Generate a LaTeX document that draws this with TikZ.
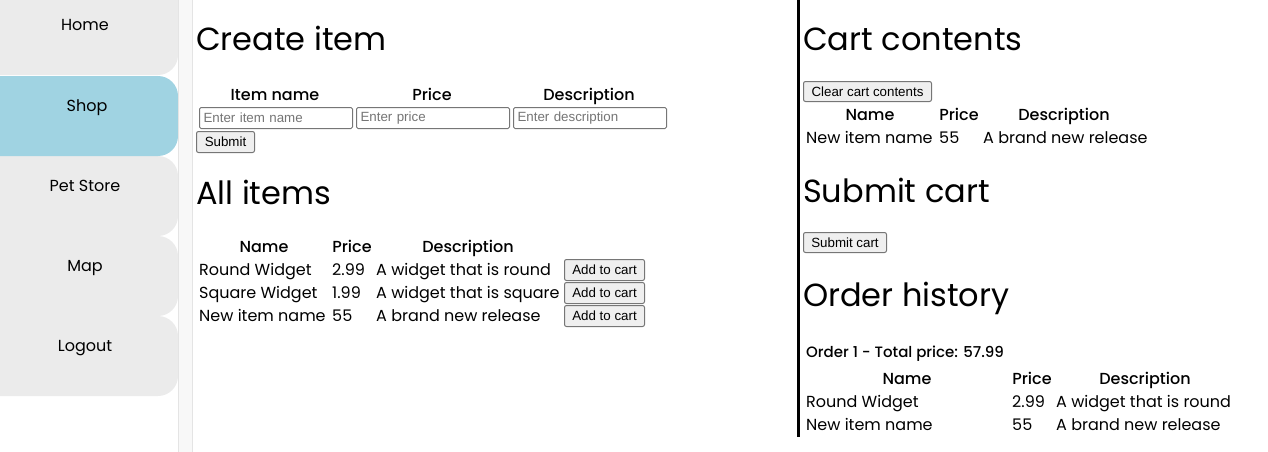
\documentclass[tikz,border=0pt]{standalone}
\usepackage{fontspec}
\newfontfamily\mont{Poppins}
\newfontfamily\montm{Poppins}[UprightFont={* Medium}]
\newfontfamily\ari{Liberation Sans}
\definecolor{tabgray}{HTML}{EBEBEB}
\definecolor{tabblue}{HTML}{A0D3E2}
\definecolor{stripfill}{HTML}{F8F8F8}
\definecolor{stripline}{HTML}{E4E4E4}
\definecolor{btnfill}{HTML}{EFEFEF}
\definecolor{btnline}{HTML}{767676}
\definecolor{phtext}{HTML}{757575}
\tikzset{
  tabtext/.style={anchor=base, inner sep=0pt, font=\mont\fontsize{16}{19}\selectfont},
  htext/.style={anchor=base west, inner sep=0pt, font=\mont\fontsize{32}{38}\selectfont},
  thead/.style={anchor=base, inner sep=0pt, font=\montm\fontsize{16}{19}\selectfont},
  tcell/.style={anchor=base west, inner sep=0pt, font=\mont\fontsize{16}{19}\selectfont},
  btn/.style={draw=btnline, fill=btnfill, line width=1pt, rounded corners=2pt, anchor=north west,
    inner sep=0pt, font=\ari\fontsize{13.33}{16}\selectfont},
  inbox/.style={draw=btnline, fill=white, line width=1pt, rounded corners=1.5pt, anchor=north west,
    inner xsep=4pt, inner ysep=0pt, minimum height=21pt, text width=145pt, align=left,
    text=phtext, font=\ari\fontsize{13.33}{16}\selectfont},
}
\begin{document}
\begin{tikzpicture}[x=1pt,y=-1pt]
\useasboundingbox (0,0) rectangle (1268,452);
\clip (0,0) rectangle (1268,452);
% sidebar tabs
\fill[tabgray, rounded corners=20pt] (-40,-30) rectangle (178,75);
\fill[tabgray, rounded corners=20pt] (-40,156) rectangle (178,236);
\fill[tabgray, rounded corners=20pt] (-40,236) rectangle (178,316);
\fill[tabgray, rounded corners=20pt] (-40,316) rectangle (178,396);
\fill[tabblue, rounded corners=20pt] (-40,76) rectangle (178,156);
\node[tabtext] (home) at (85,31) {Home};
\node[tabtext] (shop) at (87,111) {Shop};
\node[tabtext] (pet) at (85,191) {Pet Store};
\node[tabtext] (map) at (85,271) {Map};
\node[tabtext] (logout) at (85,351) {Logout};
% strip
\fill[stripfill] (178.5,0) rectangle (192.5,452);
\draw[stripline, line width=1pt] (178.5,0) -- (178.5,452);
\draw[stripline, line width=1pt] (192.5,0) -- (192.5,452);
% Create item
\node[htext] (create) at (196,51) {Create item};
\node[thead] (hname) at (275,100) {Item name};
\node[thead] (hprice) at (432,100) {Price};
\node[thead] (hdesc) at (589,100) {Description};
\node[inbox] (in1) at (199,107) {Enter item name};
\node[inbox] (in2) at (356,107) {Enter price};
\node[inbox] (in3) at (513,107) {Enter description};
\node[btn, minimum width=58pt, minimum height=21pt] (submit) at (196,131) {Submit};
% All items
\node[htext] (allitems) at (196,204) {All items};
\node[thead] (aname) at (264,252) {Name};
\node[thead] (aprice) at (352,252) {Price};
\node[thead] (adesc) at (468,252) {Description};
\node[tcell] (r1a) at (199,275) {Round Widget};
\node[tcell] (r1b) at (332,275) {2.99};
\node[tcell] (r1c) at (376,275) {A widget that is round};
\node[btn, minimum width=80pt, minimum height=21pt] (r1btn) at (564,259) {Add to cart};
\node[tcell] (r2a) at (199,298) {Square Widget};
\node[tcell] (r2b) at (332,298) {1.99};
\node[tcell] (r2c) at (376,298) {A widget that is square};
\node[btn, minimum width=80pt, minimum height=21pt] (r2btn) at (564,282) {Add to cart};
\node[tcell] (r3a) at (199,321) {New item name};
\node[tcell] (r3b) at (332,321) {55};
\node[tcell] (r3c) at (376,321) {A brand new release};
\node[btn, minimum width=80pt, minimum height=21pt] (r3btn) at (564,305) {Add to cart};
% separator
\fill[black] (796.5,0) rectangle (799.5,437);
% Cart contents
\node[htext] (cart) at (803,51) {Cart contents};
\node[btn, minimum width=128pt, minimum height=20pt] (clear) at (803,81) {Clear cart contents};
\node[thead] (cname) at (870,120) {Name};
\node[thead] (cprice) at (959,120) {Price};
\node[thead] (cdesc) at (1064,120) {Description};
\node[tcell] (c1a) at (806,143) {New item name};
\node[tcell] (c1b) at (939,143) {55};
\node[tcell] (c1c) at (983,143) {A brand new release};
% Submit cart
\node[htext] (subcart) at (803,202) {Submit cart};
\node[btn, minimum width=83pt, minimum height=20pt] (subbtn) at (803,232) {Submit cart};
% Order history
\node[htext] (orders) at (803,306) {Order history};
\node[anchor=base west, inner sep=0pt, font=\montm\fontsize{15}{18}\selectfont] (order1) at (806,357) {Order 1 - Total price: 57.99};
\node[thead] (oname) at (907,384) {Name};
\node[thead] (oprice) at (1032,384) {Price};
\node[thead] (odesc) at (1145,384) {Description};
\node[tcell] (o1a) at (806,407) {Round Widget};
\node[tcell] (o1b) at (1012,407) {2.99};
\node[tcell] (o1c) at (1056,407) {A widget that is round};
\node[tcell] (o2a) at (806,430) {New item name};
\node[tcell] (o2b) at (1012,430) {55};
\node[tcell] (o2c) at (1056,430) {A brand new release};
\end{tikzpicture}
\end{document}
